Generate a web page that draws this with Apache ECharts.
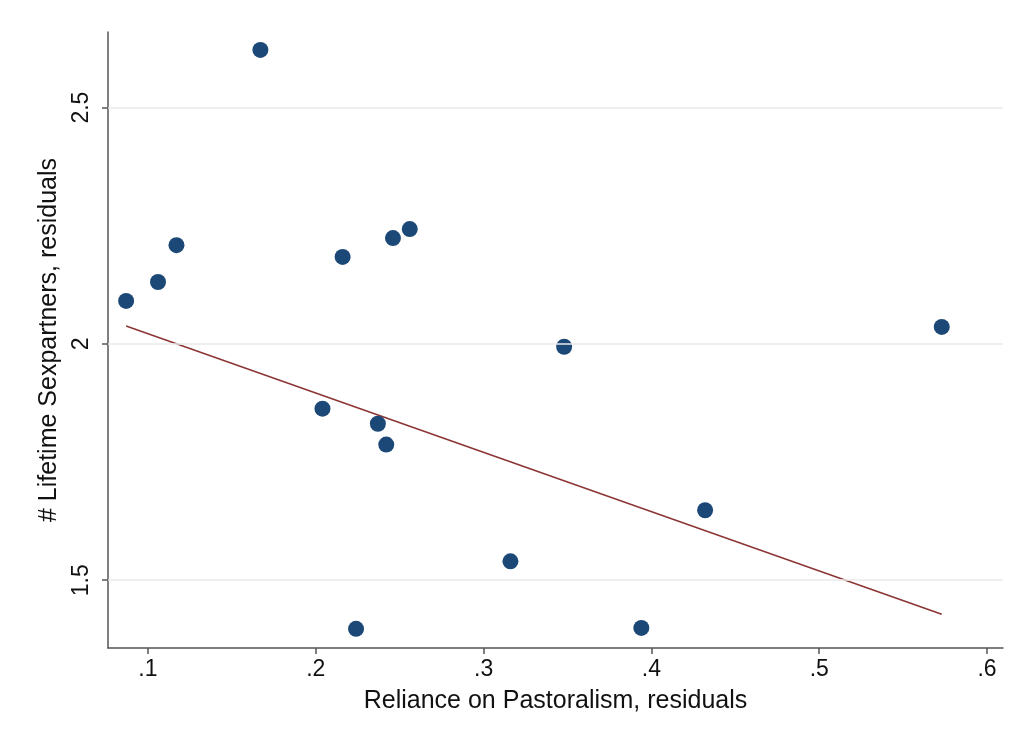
<!DOCTYPE html>
<html>
<head>
<meta charset="utf-8">
<script src="https://cdn.jsdelivr.net/npm/echarts@6/dist/echarts.min.js"></script>
<style>
html,body{margin:0;padding:0;background:#fff;}
#chart{width:1018px;height:745px;}
</style>
</head>
<body>
<div id="chart"></div>
<script>
// Data
const pastoralism = [0.087, 0.106, 0.117, 0.167, 0.204, 0.216, 0.237, 0.242, 0.246, 0.256, 0.224, 0.316, 0.348, 0.394, 0.432, 0.573];
const sexpartners = [2.091, 2.131, 2.209, 2.622, 1.863, 2.184, 1.831, 1.787, 2.224, 2.243, 1.397, 1.540, 1.994, 1.399, 1.648, 2.036];
const fitX = [0.087, 0.573];
const fitY = [2.038, 1.428];
const xTicks = [0.1, 0.2, 0.3, 0.4, 0.5, 0.6];
const yTicks = [1.5, 2, 2.5];
const xTitle = 'Reliance on Pastoralism, residuals';
const yTitle = '# Lifetime Sexpartners, residuals';

const fmtX = v => String(Math.round(v * 10) / 10).replace(/^0/, '');
const fmtY = v => String(v);
const font = '"Liberation Sans", Arial, Helvetica, sans-serif';

const chart = echarts.init(document.getElementById('chart'), null, {renderer: 'canvas'});
chart.setOption({
  backgroundColor: '#ffffff',
  animation: false,
  grid: {left: 108, right: 15, top: 32, bottom: 97, containLabel: false},
  xAxis: {
    type: 'value',
    min: 0.0762, max: 0.6095,
    name: xTitle,
    nameLocation: 'middle',
    nameGap: 41,
    nameTextStyle: {fontFamily: font, fontSize: 25, color: '#111'},
    axisLine: {show: true, lineStyle: {color: '#555', width: 1.5}},
    axisTick: {show: true, length: 6, lineStyle: {color: '#555', width: 1.5}, customValues: xTicks},
    axisLabel: {customValues: xTicks, formatter: fmtX, fontFamily: font, fontSize: 23, color: '#111', margin: 10},
    splitLine: {show: false}
  },
  yAxis: {
    type: 'value',
    min: 1.3565, max: 2.66,
    name: yTitle,
    nameLocation: 'middle',
    nameGap: 44,
    nameRotate: 90,
    nameTextStyle: {fontFamily: font, fontSize: 25, color: '#111'},
    axisLine: {show: true, lineStyle: {color: '#555', width: 1.5}},
    axisTick: {show: true, length: 6, lineStyle: {color: '#555', width: 1.5}, customValues: yTicks},
    axisLabel: {customValues: yTicks, formatter: fmtY, rotate: 90, fontFamily: font, fontSize: 23, color: '#111', margin: 15},
    splitLine: {show: false}
  },
  series: [
    {
      type: 'line',
      data: [],
      silent: true,
      markLine: {
        silent: true,
        symbol: ['none', 'none'],
        label: {show: false},
        lineStyle: {color: '#eaeaea', width: 1.5, type: 'solid'},
        data: yTicks.map(v => ({yAxis: v}))
      }
    },
    {
      type: 'line',
      data: fitX.map((x, i) => [x, fitY[i]]),
      showSymbol: false,
      lineStyle: {color: '#8c3535', width: 1.6},
      z: 3
    },
    {
      type: 'scatter',
      data: pastoralism.map((x, i) => [x, sexpartners[i]]),
      symbolSize: 16,
      itemStyle: {color: '#1c4877', opacity: 1},
      z: 4
    }
  ]
});
</script>
</body>
</html>
